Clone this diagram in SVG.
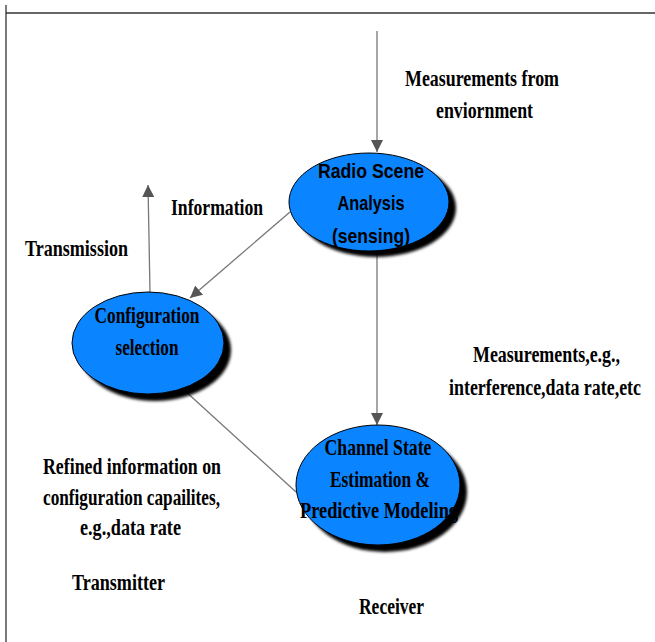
<svg xmlns="http://www.w3.org/2000/svg" width="655" height="642" viewBox="0 0 655 642">
<defs>
<style>
.lbl{font-family:"Liberation Serif","Times New Roman",serif;font-weight:bold;font-size:24px;fill:#000}
.sans{font-family:"Liberation Sans",Arial,sans-serif;font-weight:bold;font-size:21px;fill:#000}
.node{fill:#0a84ff;stroke:#000;stroke-width:1}
.shadow{fill:#000;filter:url(#blur)}
.conn{stroke:#777;stroke-width:1.3;fill:none}
.arrow{marker-end:url(#arr)}
</style>
<filter id="blur" x="-20%" y="-20%" width="140%" height="140%"><feGaussianBlur stdDeviation="1.5"/></filter>
<marker id="arr" viewBox="0 0 10 10" refX="10" refY="5" markerWidth="12" markerHeight="12" markerUnits="userSpaceOnUse" orient="auto">
<path d="M0,0 L10,5 L0,10 z" fill="#555"/>
</marker>
</defs>
<rect width="655" height="642" fill="#fff"/>
<g id="frame" stroke="#333" stroke-width="1.3">
<line x1="6" y1="13" x2="655" y2="13"/>
<line x1="6" y1="5" x2="6" y2="642"/>
</g>
<g id="connectors">
<line class="conn arrow" x1="377" y1="31" x2="377" y2="152"/>
<line class="conn arrow" x1="377" y1="253" x2="377" y2="425"/>
<line class="conn arrow" x1="290" y1="212" x2="190" y2="298"/>
<line class="conn arrow" x1="150" y1="292" x2="148" y2="185"/>
<line class="conn" x1="296" y1="492" x2="172" y2="379"/>
</g>
<g id="radio-scene">
<ellipse class="shadow" cx="376" cy="208" rx="80" ry="49"/>
<ellipse class="node" cx="369" cy="202" rx="80" ry="49"/>
<text class="sans" x="371" y="178" text-anchor="middle" textLength="106" lengthAdjust="spacingAndGlyphs">Radio Scene</text>
<text class="sans" x="371" y="210" text-anchor="middle" textLength="67" lengthAdjust="spacingAndGlyphs">Analysis</text>
<text class="sans" x="371" y="243" text-anchor="middle" textLength="78" lengthAdjust="spacingAndGlyphs">(sensing)</text>
</g>
<g id="config">
<ellipse class="shadow" cx="155" cy="350" rx="76" ry="51"/>
<ellipse class="node" cx="148" cy="343" rx="76" ry="51"/>
<text class="lbl" x="147" y="323" text-anchor="middle" textLength="105" lengthAdjust="spacingAndGlyphs">Configuration</text>
<text class="lbl" x="147" y="355" text-anchor="middle" textLength="63" lengthAdjust="spacingAndGlyphs">selection</text>
</g>
<g id="channel-state">
<ellipse class="shadow" cx="385" cy="492" rx="82" ry="60"/>
<ellipse class="node" cx="378" cy="485" rx="82" ry="60"/>
<text class="lbl" x="378" y="455" text-anchor="middle" textLength="107" lengthAdjust="spacingAndGlyphs">Channel State</text>
<text class="lbl" x="380" y="487" text-anchor="middle" textLength="100" lengthAdjust="spacingAndGlyphs">Estimation &amp;</text>
<text class="lbl" x="379" y="518" text-anchor="middle" textLength="158" lengthAdjust="spacingAndGlyphs">Predictive Modeling</text>
</g>
<g id="labels">
<text class="lbl" x="405" y="86" textLength="154" lengthAdjust="spacingAndGlyphs">Measurements from</text>
<text class="lbl" x="436" y="118" textLength="97" lengthAdjust="spacingAndGlyphs">enviornment</text>
<text class="lbl" x="171" y="215" textLength="92" lengthAdjust="spacingAndGlyphs">Information</text>
<text class="lbl" x="25" y="256" textLength="103" lengthAdjust="spacingAndGlyphs">Transmission</text>
<text class="lbl" x="473" y="362" textLength="147" lengthAdjust="spacingAndGlyphs">Measurements,e.g.,</text>
<text class="lbl" x="449" y="395" textLength="192" lengthAdjust="spacingAndGlyphs">interference,data rate,etc</text>
<text class="lbl" x="43" y="474" textLength="178" lengthAdjust="spacingAndGlyphs">Refined information on</text>
<text class="lbl" x="43" y="505" textLength="177" lengthAdjust="spacingAndGlyphs">configuration capailites,</text>
<text class="lbl" x="80" y="535" textLength="101" lengthAdjust="spacingAndGlyphs">e.g.,data rate</text>
<text class="lbl" x="72" y="590" textLength="93" lengthAdjust="spacingAndGlyphs">Transmitter</text>
<text class="lbl" x="359" y="614" textLength="65" lengthAdjust="spacingAndGlyphs">Receiver</text>
</g>
</svg>
